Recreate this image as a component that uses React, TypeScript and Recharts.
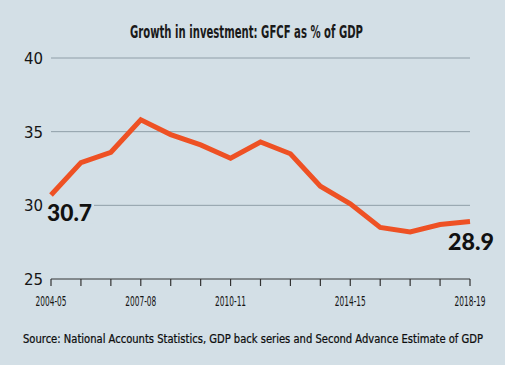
import React from 'react';
import { LineChart, Line, XAxis, YAxis, CartesianGrid, LabelList } from 'recharts';

const years = ['2004-05','2005-06','2006-07','2007-08','2008-09','2009-10','2010-11','2011-12','2012-13','2013-14','2014-15','2015-16','2016-17','2017-18','2018-19'];
const gfcf = [30.7, 32.9, 33.6, 35.8, 34.8, 34.1, 33.2, 34.3, 33.5, 31.3, 30.1, 28.5, 28.2, 28.7, 28.9];
const yTicks = [25, 30, 35, 40];
const labelledYears = ['2004-05', '2007-08', '2010-11', '2014-15', '2018-19'];
const title = 'Growth in investment: GFCF as % of GDP';
const source = 'Source: National Accounts Statistics, GDP back series and Second Advance Estimate of GDP';

const data = years.map((y, i) => ({ year: y, value: gfcf[i] }));

const BG = '#d3dfe6';
const LINE = '#ee5124';
const GRID = '#8f9ea8';
const COND = "'DejaVu Sans Condensed', 'Liberation Sans Narrow', 'DejaVu Sans', sans-serif";

const YTick = (props: any) => {
  const { x, y, payload } = props;
  return (
    <text x={x} y={y} dy={6} textAnchor="end" fontFamily="'DejaVu Sans', sans-serif" fontSize={15} fill="#151515">
      {payload.value}
    </text>
  );
};

const XTick = (props: any) => {
  const { x, y, payload } = props;
  if (!labelledYears.includes(payload.value)) return <g />;
  const sx = 0.62;
  return (
    <text transform={`translate(${x},${y + 18}) scale(${sx},1)`} x={0} y={0} textAnchor="middle"
      fontFamily={COND} fontSize={14} fill="#151515"
      textLength={31 / sx} lengthAdjust="spacingAndGlyphs" style={{ fontStretch: 'condensed' }}>
      {payload.value}
    </text>
  );
};

const EndLabel = (props: any) => {
  const { x, y, value, index } = props;
  const last = data.length - 1;
  if (index !== 0 && index !== last) return null;
  const txt = Number(value).toFixed(1);
  if (index === 0) {
    return (
      <g>
        <rect x={x - 5} y={y + 6} width={48} height={22} fill={BG} />
        <text x={x - 4} y={y + 26} fontFamily="Lato, 'DejaVu Sans', sans-serif" fontWeight={900} fontSize={23}
          fill="#111" textLength={45} lengthAdjust="spacingAndGlyphs">{txt}</text>
      </g>
    );
  }
  return (
    <text x={x + 24} y={y + 28} textAnchor="end" fontFamily="Lato, 'DejaVu Sans', sans-serif" fontWeight={900}
      fontSize={23} fill="#111" textLength={46} lengthAdjust="spacingAndGlyphs">{txt}</text>
  );
};

export default function App() {
  const tsx = 0.57;
  const ssx = 0.85;
  return (
    <div style={{ position: 'absolute', left: 0, top: 0, width: 505, height: 365, background: BG }}>
      <LineChart width={505} height={365} data={data} margin={{ top: 58, right: 35, left: 0, bottom: 56 }}>
        <CartesianGrid horizontal vertical={false} stroke={GRID} strokeWidth={1} />
        <XAxis dataKey="year" interval={0} height={30} tickSize={7} tickMargin={2}
          axisLine={{ stroke: '#555', strokeWidth: 1 }} tickLine={{ stroke: '#333', strokeWidth: 1.2 }}
          tick={<XTick />} padding={{ left: 0, right: 0 }} />
        <YAxis domain={[25, 40]} ticks={yTicks} width={51} axisLine={false} tickLine={false}
          tickMargin={2} tick={<YTick />} allowDataOverflow />
        <Line type="linear" dataKey="value" stroke={LINE} strokeWidth={5} dot={false}
          isAnimationActive={false}>
          <LabelList dataKey="value" content={<EndLabel />} />
        </Line>
      </LineChart>
      <svg width={505} height={365} style={{ position: 'absolute', left: 0, top: 0, pointerEvents: 'none' }}>
        <text transform={`translate(130,38) scale(${tsx},1)`} x={0} y={0} fontFamily={COND} fontWeight="bold"
          fontSize={18} fill="#1a1a1a" textLength={233 / tsx} lengthAdjust="spacingAndGlyphs"
          style={{ fontStretch: 'condensed' }}>{title}</text>
        <text transform={`translate(23,343) scale(${ssx},1)`} x={0} y={0} fontFamily={COND}
          fontSize={13} fill="#0d0d0d" stroke="#0d0d0d" strokeWidth={0.25}
          textLength={460 / ssx} lengthAdjust="spacingAndGlyphs"
          style={{ fontStretch: 'condensed' }}>{source}</text>
      </svg>
    </div>
  );
}
